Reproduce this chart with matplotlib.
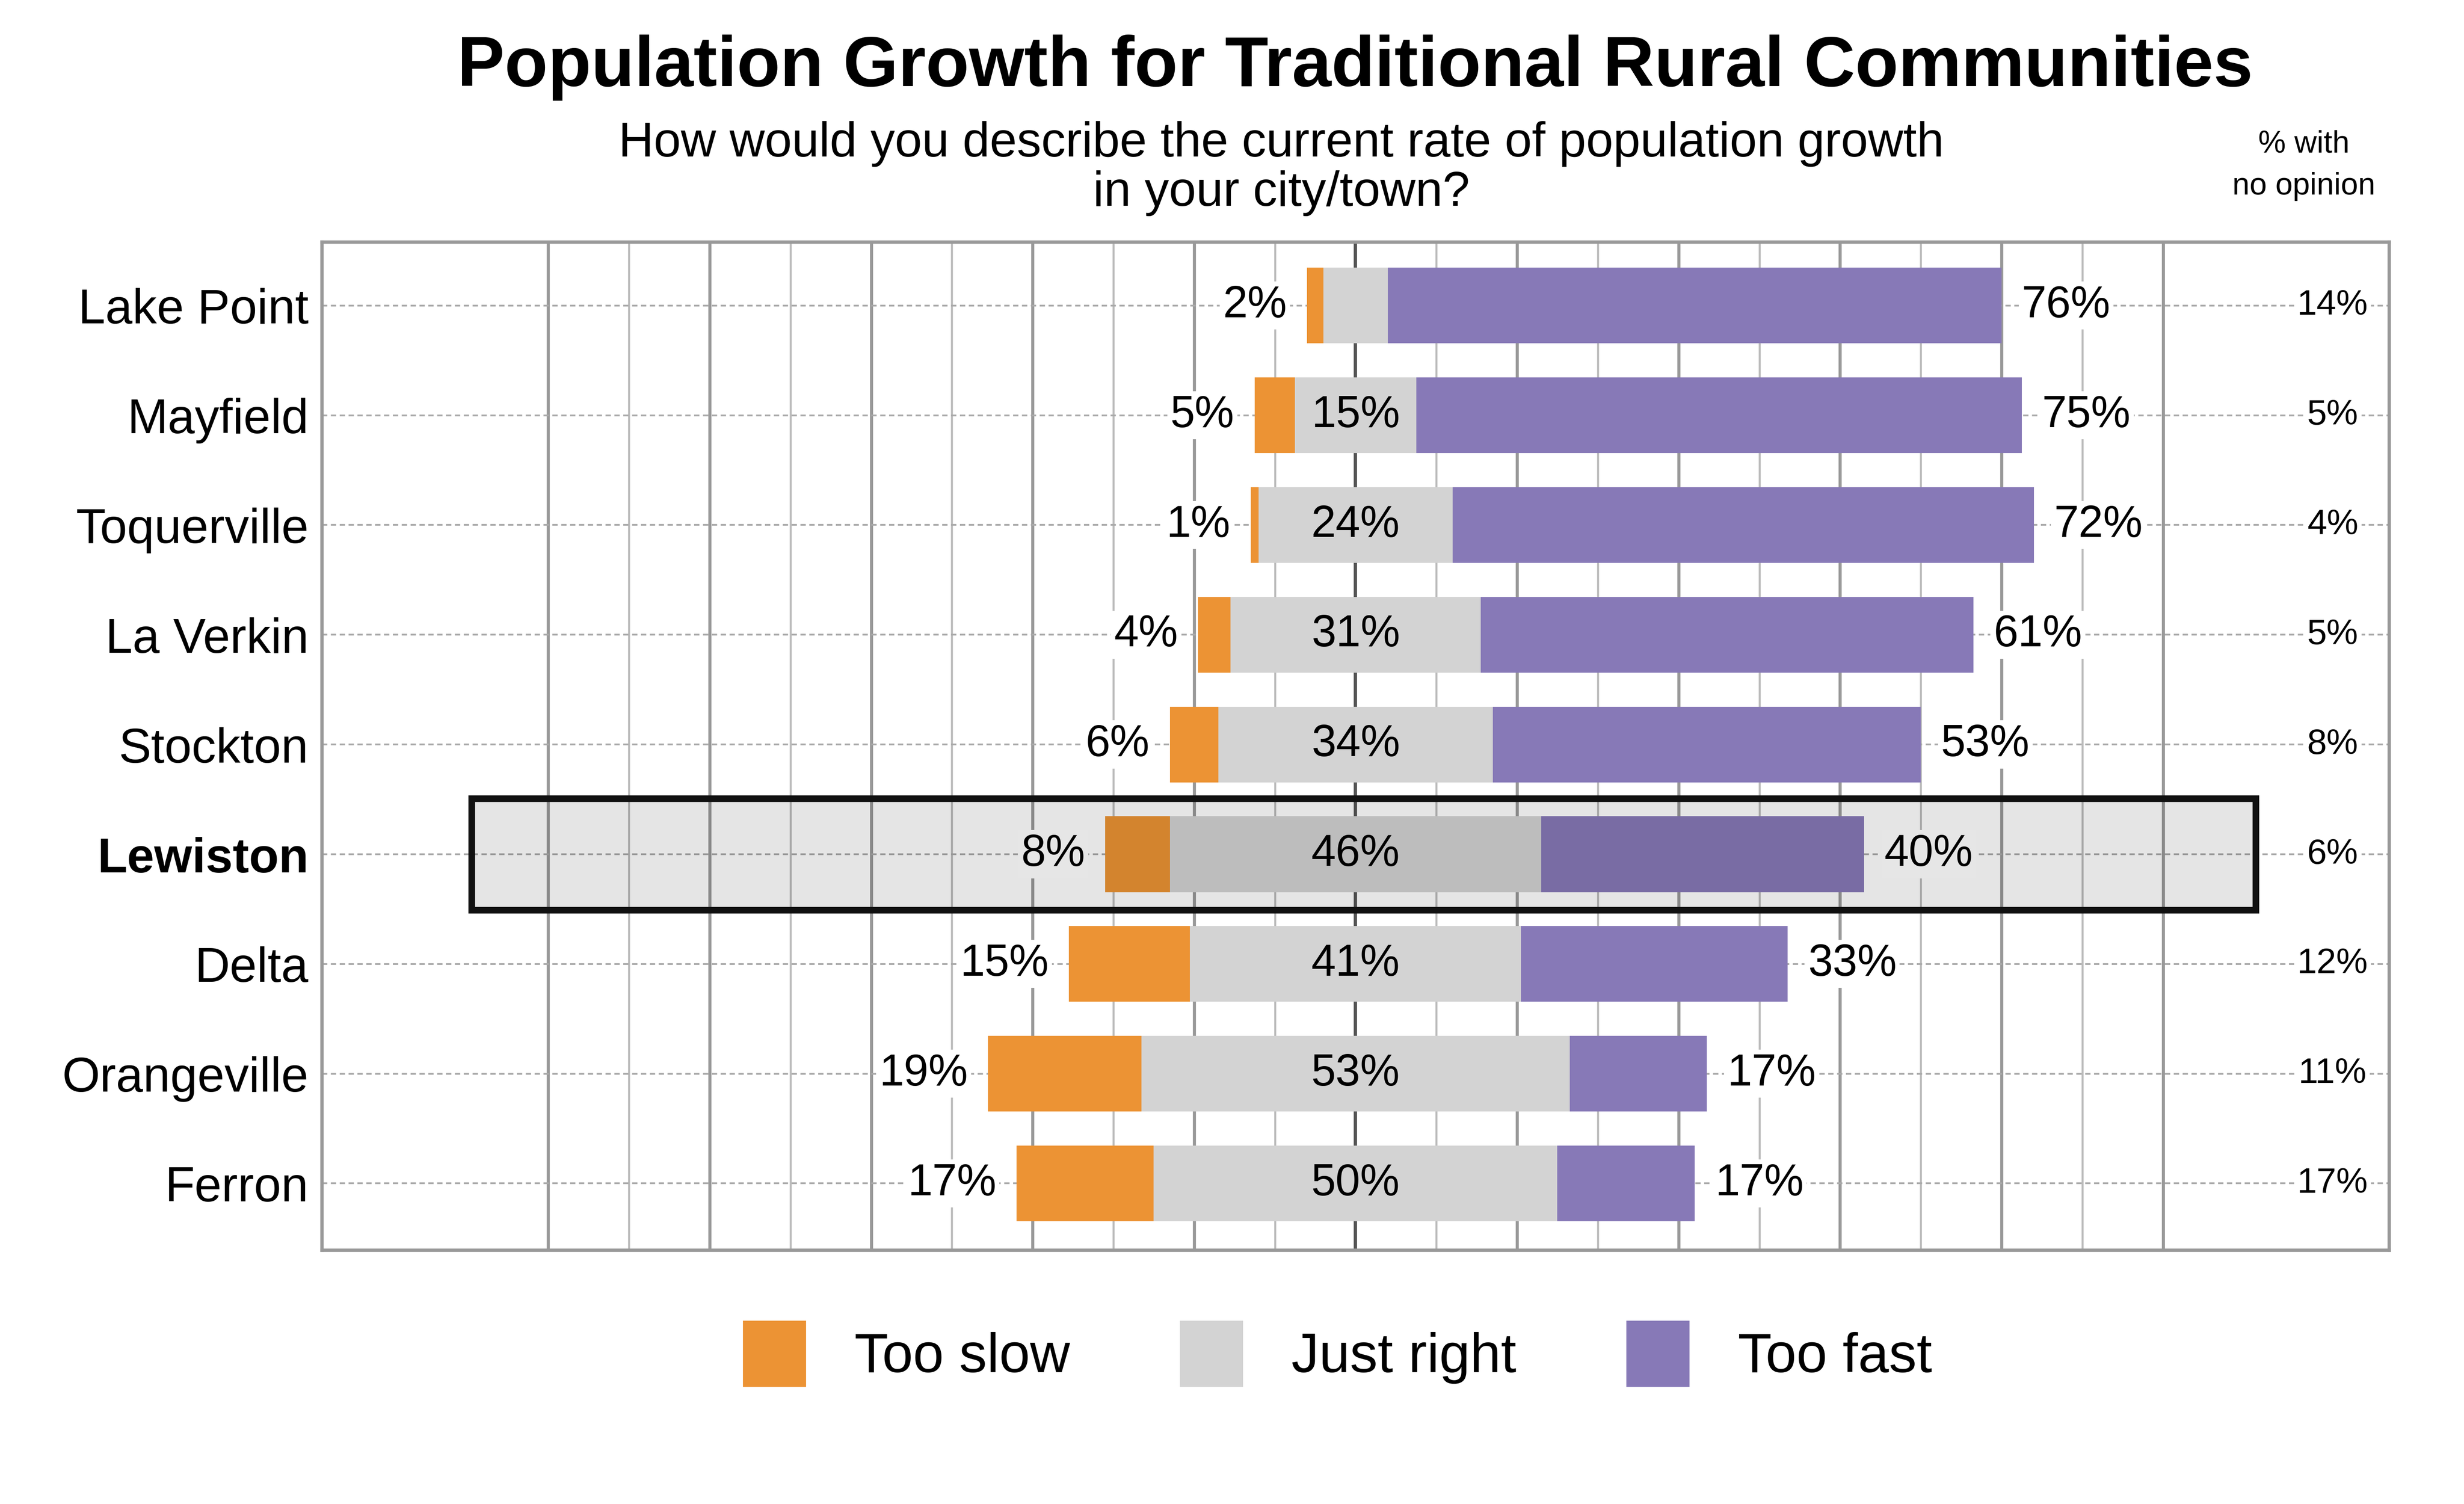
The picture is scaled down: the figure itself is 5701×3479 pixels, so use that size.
import matplotlib
matplotlib.use("Agg")
import matplotlib.pyplot as plt
from matplotlib.patches import Rectangle

plt.rcParams['font.family'] = ['Liberation Sans', 'DejaVu Sans']

towns = ["Lake Point", "Mayfield", "Toquerville", "La Verkin", "Stockton",
         "Lewiston", "Delta", "Orangeville", "Ferron"]
too_slow = [2, 5, 1, 4, 6, 8, 15, 19, 17]
just_right = [8, 15, 24, 31, 34, 46, 41, 53, 50]
too_fast = [76, 75, 72, 61, 53, 40, 33, 17, 17]
no_opinion = [14, 5, 4, 5, 8, 6, 12, 11, 17]
show_jr = [False, True, True, True, True, True, True, True, True]
highlight = "Lewiston"

c_slow, c_right, c_fast = '#EC9334', '#D3D3D3', '#8779B7'

fig = plt.figure(figsize=(15.45, 9.43), dpi=369)
ax = fig.add_axes([0.1307, 0.1686, 0.8389, 0.6704])
ax.set_xlim(-128, 128)
ax.set_ylim(8.61, -0.58)

# vertical grid
for v in range(-100, 101, 10):
    if v == 0:
        ax.axvline(v, color='#555555', lw=1.5, zorder=0)
    elif v % 20 == 0:
        ax.axvline(v, color='#999999', lw=1.4, zorder=0)
    else:
        ax.axvline(v, color='#bbbbbb', lw=0.9, zorder=0)

h = 0.69
lab_bbox = dict(facecolor='white', edgecolor='none', pad=1.5)
for i, t in enumerate(towns):
    ax.axhline(i, color='#aaaaaa', lw=0.8, ls=(0, (3, 2)), zorder=0.5)
    jr = just_right[i]
    left = -jr / 2
    ax.barh(i, too_slow[i], left=left - too_slow[i], height=h, color=c_slow, zorder=2)
    ax.barh(i, jr, left=left, height=h, color=c_right, zorder=2)
    ax.barh(i, too_fast[i], left=jr / 2, height=h, color=c_fast, zorder=2)
    bb = lab_bbox if t != highlight else dict(facecolor='#e6e6e6', edgecolor='none', pad=1.5)
    ax.text(left - too_slow[i] - 2.5, i, f"{too_slow[i]}%", ha='right', va='center',
            fontsize=20, bbox=bb, zorder=5)
    if show_jr[i]:
        ax.text(0, i, f"{jr}%", ha='center', va='center', fontsize=20, zorder=5)
    ax.text(jr / 2 + too_fast[i] + 2.5, i, f"{too_fast[i]}%", ha='left', va='center',
            fontsize=20, bbox=bb, zorder=5)
    ax.text(121, i, f"{no_opinion[i]}%", ha='center', va='center', fontsize=16,
            bbox=lab_bbox, zorder=5)

# highlight box
hi = towns.index(highlight)
ax.add_patch(Rectangle((-109.5, hi - 0.51), 221, 1.02, facecolor=(0, 0, 0, 0.1),
                       edgecolor='none', zorder=3))
ax.add_patch(Rectangle((-109.5, hi - 0.51), 221, 1.02, facecolor='none',
                       edgecolor='#111111', lw=3, zorder=6))

ax.set_yticks(range(len(towns)))
ax.set_yticklabels(towns, fontsize=22)
for lbl in ax.get_yticklabels():
    if lbl.get_text() == highlight:
        lbl.set_fontweight('bold')
ax.tick_params(axis='y', length=0, pad=6)
ax.set_xticks([])
for s in ax.spines.values():
    s.set_color('#999999')
    s.set_linewidth(1.5)

fig.text(0.55, 0.955, "Population Growth for Traditional Rural Communities",
         ha='center', va='center', fontsize=32, fontweight='bold')
fig.text(0.52, 0.888, "How would you describe the current rate of population growth\nin your city/town?",
         ha='center', va='center', fontsize=22, linespacing=1.1)
fig.text(0.935, 0.89, "% with\nno opinion", ha='center', va='center', fontsize=14,
         linespacing=1.6)

handles = [Rectangle((0, 0), 1, 1, color=c) for c in (c_slow, c_right, c_fast)]
fig.legend(handles, ["Too slow", "Just right", "Too fast"], loc='center',
           bbox_to_anchor=(0.543, 0.1), ncol=3, frameon=False, fontsize=25,
           handlelength=1.1, handleheight=1.4, columnspacing=2.0, handletextpad=0.9)

fig.savefig("out.png", dpi=369)
